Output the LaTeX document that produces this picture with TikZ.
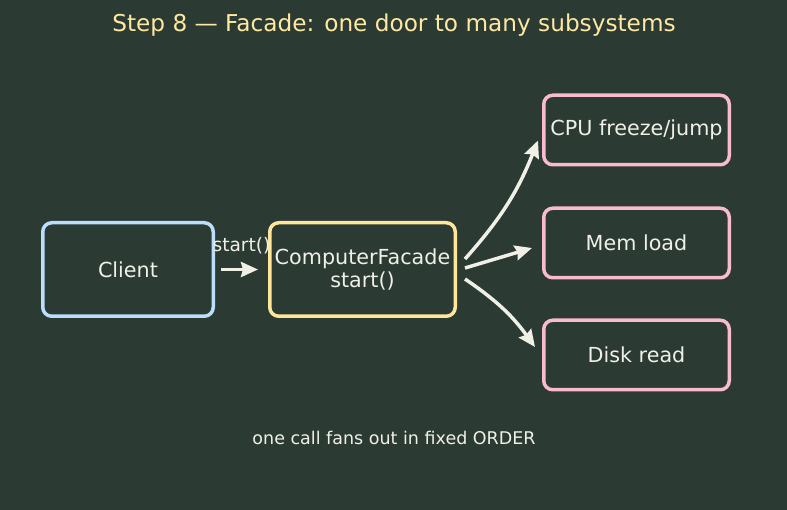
\documentclass[tikz,border=0pt]{standalone}
\usepackage{fontspec}
\setmainfont{DejaVu Sans}
\usepackage{tikz}
\usetikzlibrary{positioning}
\usetikzlibrary{arrows.meta}

\definecolor{bgcol}{RGB}{43,58,51}
\definecolor{inkcol}{RGB}{240,240,230}
\definecolor{titlecol}{RGB}{255,232,160}
\definecolor{clientcol}{RGB}{187,222,251}
\definecolor{facadecol}{RGB}{255,230,153}
\definecolor{subcol}{RGB}{248,187,208}

\begin{document}
\begin{tikzpicture}[
            x = 1pt, y = 1pt,
            line width = 3.5pt
        ]

        \tikzstyle{box}=[
            draw,
            rounded corners = 9pt,
            fill = bgcol,
            text = inkcol,
            align = center,
            inner sep = 2pt,
            font = \fontsize{20.7}{23.5}\selectfont
        ]
        \tikzstyle{sub}=[box, draw = subcol, minimum width = 185.5pt, minimum height = 69.5pt]
        \tikzstyle{flow}=[-{Stealth[length=17pt, width=15pt, inset=2pt]}, draw = inkcol, line width = 3.5pt]

	% CANVAS
        \fill[bgcol] (0,0) rectangle (787,-510);
        \useasboundingbox (0,0) rectangle (787,-510);

        \node (T) [anchor = base, text = titlecol, font = \fontsize{23.2}{26}\selectfont] at (394,-32) {Step 8 — Facade: one door to many subsystems};

	% CLIENT AND FACADE
        \node[box, draw = clientcol, minimum width = 170.5pt, minimum height = 93.5pt] (C) at (128,-269.5) {Client};
        \node[box, draw = facadecol, minimum width = 185.5pt, minimum height = 93.5pt] (F) [right = 53pt of C] {ComputerFacade\\start()};

        \draw[flow, shorten < = 6pt, shorten > = 10pt] (C) -- node[above = 14pt, inner sep = 0pt, text = inkcol, font = \fontsize{18.6}{21}\selectfont] {start()} (F);

	% SUBSYSTEMS
        \node[sub] (M) at (636.5,-243) {Mem load};
        \node[sub] (CPU) [above = 40pt of M] {CPU freeze/jump};
        \node[sub] (D) [below = 39pt of M] {Disk read};

        \draw[flow] ([xshift=8pt, yshift=10.5pt]F.east) to[bend right=10] ([xshift=-4pt, yshift=-10.5pt]CPU.west);
        \draw[flow] ([xshift=8pt, yshift=1.5pt]F.east) -- ([xshift=-10pt, yshift=-5pt]M.west);
        \draw[flow] ([xshift=8pt, yshift=-9.5pt]F.east) to[bend left=10] ([xshift=-7pt, yshift=8pt]D.west);

        \node (N) [anchor = base, text = inkcol, font = \fontsize{17.5}{20}\selectfont] at (394,-444) {one call fans out in fixed ORDER};

  \end{tikzpicture}
\end{document}
